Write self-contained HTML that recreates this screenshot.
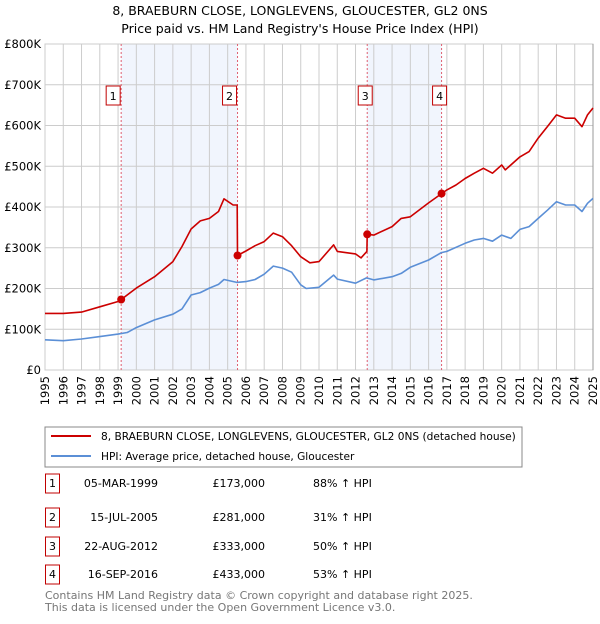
<!DOCTYPE html>
<html><head><meta charset="utf-8"><style>
body{margin:0;background:#fff;font-family:"DejaVu Sans","Liberation Sans",sans-serif;}
svg text{font-family:"DejaVu Sans","Liberation Sans",sans-serif;}
</style></head><body>
<svg id="c" width="600" height="620" xmlns="http://www.w3.org/2000/svg">
<text x="300" y="15" text-anchor="middle" font-size="12.5">8, BRAEBURN CLOSE, LONGLEVENS, GLOUCESTER, GL2 0NS</text>
<text x="300" y="33" text-anchor="middle" font-size="12.5">Price paid vs. HM Land Registry's House Price Index (HPI)</text>
<g id="plot"></g>
<rect x="45" y="427" width="477" height="40" fill="#fff" stroke="#888"/>
<line x1="51" y1="436" x2="91" y2="436" stroke="#cc0000" stroke-width="2"/>
<text x="101" y="440" font-size="10.6">8, BRAEBURN CLOSE, LONGLEVENS, GLOUCESTER, GL2 0NS (detached house)</text>
<line x1="51" y1="456" x2="91" y2="456" stroke="#5b8fd6" stroke-width="2"/>
<text x="101" y="460" font-size="10.6">HPI: Average price, detached house, Gloucester</text>
<g id="tbl"></g>
<text x="45" y="599" font-size="11" fill="#777">Contains HM Land Registry data © Crown copyright and database right 2025.</text>
<text x="45" y="611" font-size="11" fill="#777">This data is licensed under the Open Government Licence v3.0.</text>
</svg>
<script>
const yTicks=[0,100,200,300,400,500,600,700,800];
const yTickLabels=["£0","£100K","£200K","£300K","£400K","£500K","£600K","£700K","£800K"];
const years=[1995,1996,1997,1998,1999,2000,2001,2002,2003,2004,2005,2006,2007,2008,2009,2010,2011,2012,2013,2014,2015,2016,2017,2018,2019,2020,2021,2022,2023,2024,2025];
const hpiX=[1995,1996,1997,1998,1999,1999.5,2000,2001,2002,2002.5,2003,2003.5,2004,2004.5,2004.8,2005.5,2006,2006.5,2007,2007.5,2008,2008.5,2009,2009.3,2010,2010.8,2011,2012,2012.6,2013,2014,2014.5,2015,2016,2016.7,2017,2018,2018.5,2019,2019.5,2020,2020.5,2021,2021.5,2022,2022.5,2023,2023.5,2024,2024.4,2024.7,2025];
const hpiY=[74,72,76,82,88,92,104,123,137,150,184,190,201,210,222,215,217,222,235,255,250,240,209,200,203,233,223,213,226,221,229,237,252,270,288,291,311,319,323,316,331,323,345,352,372,392,413,405,405,389,409,421];
const priceX=[1995,1996,1997,1998,1999,1999.17,2000,2001,2002,2002.5,2003,2003.5,2004,2004.5,2004.8,2005.3,2005.52,2005.54,2006,2006.5,2007,2007.5,2008,2008.5,2009,2009.5,2010,2010.8,2011,2012,2012.3,2012.62,2012.64,2013,2014,2014.5,2015,2016,2016.71,2017,2017.5,2018,2018.5,2019,2019.5,2020,2020.2,2021,2021.5,2022,2022.5,2023,2023.5,2024,2024.4,2024.7,2025];
const priceY=[139,139,142,155,168,173,201,229,266,303,346,366,372,389,420,405,405,281,292,305,315,336,327,305,278,263,266,307,291,285,275,291,333,331,352,372,376,410,433,442,454,470,483,495,483,503,491,523,536,569,597,626,618,618,597,626,643];
const saleX=[1999.17,2005.54,2012.64,2016.71];
const saleY=[173,281,333,433];
const saleLabels=["1","2","3","4"];
const saleDates=["05-MAR-1999","15-JUL-2005","22-AUG-2012","16-SEP-2016"];
const salePrices=["£173,000","£281,000","£333,000","£433,000"];
const saleHpi=["88% ↑ HPI","31% ↑ HPI","50% ↑ HPI","53% ↑ HPI"];

const NS="http://www.w3.org/2000/svg";
const X0=45,X1=593,Y0=370,Y1=44;
const xs=v=>X0+(v-1995)/30*(X1-X0);
const ys=v=>Y0-v/800*(Y0-Y1);
const g=document.getElementById('plot');
function mk(t,a,p){const e=document.createElementNS(NS,t);for(const k in a)e.setAttribute(k,a[k]);(p||g).appendChild(e);return e;}
for(let i=0;i<4;i+=2){
  const r=mk('rect',{x:xs(saleX[i]),y:Y1,width:xs(saleX[i+1])-xs(saleX[i]),height:Y0-Y1,fill:'#eef3fc',opacity:0.8});
  
  
}
yTicks.forEach((t,i)=>{
  const l=mk('line',{x1:X0,x2:X1,y1:ys(t),y2:ys(t),stroke:'#ccc','stroke-width':1});
  
  
  const tx=mk('text',{x:X0-4,y:ys(t)+4,'text-anchor':'end','font-size':11.5});
  tx.textContent=yTickLabels[i];
  
  
});
years.forEach(y=>{
  const l=mk('line',{x1:xs(y),x2:xs(y),y1:Y1,y2:Y0,stroke:'#ccc','stroke-width':1});
  
  
  const tx=mk('text',{x:0,y:0,'text-anchor':'end','font-size':11.5,transform:`translate(${xs(y)+4},${Y0+6}) rotate(-90)`});
  tx.textContent=y;
  
  
});
const fr=mk('rect',{x:X0,y:Y1,width:X1-X0,height:Y0-Y1,fill:'none',stroke:'#ccc'});


const rl=mk('line',{x1:X1,x2:X1,y1:Y1,y2:Y0,stroke:'#999','stroke-width':1});


saleX.forEach((sx,i)=>{
  const l=mk('line',{x1:xs(sx),x2:xs(sx),y1:Y1,y2:Y0,stroke:'#e06070','stroke-width':1,'stroke-dasharray':'2,2'});
  
  
  const bx=xs(sx)-(i<2?8:2)-6;
  const b=mk('rect',{x:bx-1,y:86,width:14,height:19,fill:'#fff',stroke:'#c00000'});
  
  
  const t=mk('text',{x:bx+6,y:100,'text-anchor':'middle','font-size':11});
  t.textContent=saleLabels[i];
  
  
});
function path(xa,ya,col,name){
  const d=xa.map((x,i)=>(i?'L':'M')+xs(x).toFixed(1)+','+ys(ya[i]).toFixed(1)).join('');
  const p=mk('path',{d:d,fill:'none',stroke:col,'stroke-width':1.6,'stroke-linejoin':'round'});
  
  
}
path(hpiX,hpiY,'#5b8fd6','hpi-line');
path(priceX,priceY,'#cc0000','price-line');
saleX.forEach((sx,i)=>{
  const c=mk('circle',{cx:xs(sx),cy:ys(saleY[i]),r:4,fill:'#cc0000'});
  
  
});
const tb=document.getElementById('tbl');
const rowsY=[483,517,546,574];
saleLabels.forEach((s,i)=>{
  const y=rowsY[i];
  const b=mk('rect',{x:45.5,y:y-9,width:14,height:19,fill:'#fff',stroke:'#c00000'},tb);
  
  
  const cells=[[s,52.5,'middle'],[saleDates[i],158,'end'],[salePrices[i],265,'end'],[saleHpi[i],313,'start']];
  cells.forEach(c=>{
    const t=mk('text',{x:c[1],y:y+4,'text-anchor':c[2],'font-size':11},tb);
    t.textContent=c[0];
    
    
  });
});
</script>
</body></html>
